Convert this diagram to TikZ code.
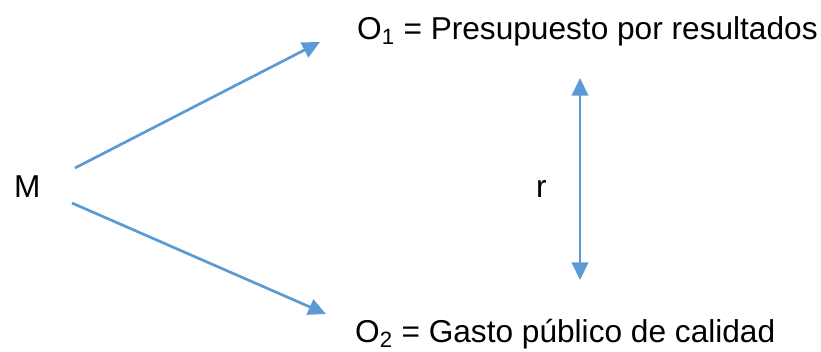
\documentclass[tikz,border=0pt]{standalone}
\usepackage{fontspec}
\setmainfont{Liberation Sans}
\usepackage{xcolor}
\usepackage{tikz}
\usetikzlibrary{arrows.meta}
\definecolor{linkblue}{HTML}{5B9BD5}

\begin{document}
\begin{tikzpicture}[
    x=0.03cm, y=-0.03cm,
    lbl/.style={font=\fontsize{27}{32}\selectfont, inner sep=0pt, anchor=base west},
    link/.style={draw=linkblue, line width=2.3pt},
    >={Triangle[length=15pt, width=14pt]}
]
\useasboundingbox (0,0) rectangle (821,351);

\node[lbl] (M) at (14,197) {M};
\node[lbl] (O1) at (357,39) {O\textsubscript{1} = Presupuesto por resultados};
\node[lbl] (O2) at (355,342) {O\textsubscript{2} = Gasto público de calidad};
\node[lbl] (r) at (536,197) {r};

\coordinate (M-up) at (75,168);
\coordinate (M-dn) at (72,203);
\coordinate (O1-in) at (320,42);
\coordinate (O2-in) at (326,314);
\coordinate (r-top) at (580,78);
\coordinate (r-bot) at (580,280);

\draw[link, ->] (M-up) -- (O1-in);
\draw[link, ->] (M-dn) -- (O2-in);
\draw[link, <->] (r-top) -- (r-bot);
\end{tikzpicture}
\end{document}
